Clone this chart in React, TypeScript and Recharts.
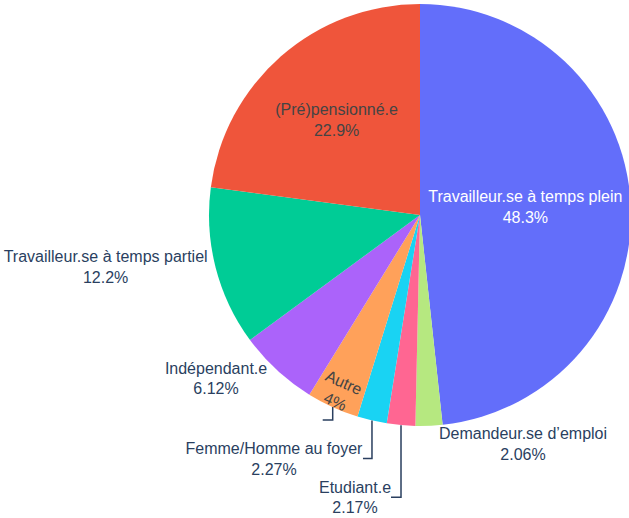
import { PieChart, Pie, Cell } from "recharts";

const categories = [
  "Travailleur.se à temps plein",
  "Demandeur.se d’emploi",
  "Etudiant.e",
  "Femme/Homme au foyer",
  "Autre",
  "Indépendant.e",
  "Travailleur.se à temps partiel",
  "(Pré)pensionné.e",
];
const shares = [48.3, 2.06, 2.17, 2.27, 4, 6.12, 12.2, 22.9];
const colors = [
  "#636efa",
  "#b6e880",
  "#ff6692",
  "#19d3f3",
  "#ffa15a",
  "#ab63fa",
  "#00cc96",
  "#ef553b",
];

const data = categories.map((name, i) => ({ name, value: shares[i] }));

const RADIAN = Math.PI / 180;
const TEXT = "#2a3f5f";
const FONT = "'Liberation Sans', Arial, sans-serif";

// how each label is placed relative to its slice
type Layout =
  | { kind: "inside"; r: number; dy: number; fill: string; rotate?: boolean; leader?: number[] }
  | { kind: "outside"; dx: number; dy: number; leader?: number[] };

const layouts: Layout[] = [
  { kind: "inside", r: 0.5, dy: -3, fill: "#ffffff" },
  { kind: "outside", dx: 94, dy: 8 },
  { kind: "outside", dx: -46, dy: 62, leader: [72, -10] },
  { kind: "outside", dx: -98, dy: 28, leader: [38, -9] },
  { kind: "inside", r: 0.92, dy: 0, fill: "#444444", rotate: true, leader: [13, -10] },
  { kind: "outside", dx: -61, dy: -2 },
  { kind: "outside", dx: -110, dy: -11 },
  { kind: "inside", r: 0.6, dy: 0, fill: "#444444" },
];

const renderLabel = (props: any) => {
  const { cx, cy, midAngle, outerRadius, index, name, value } = props;
  const lay = layouts[index];
  const cos = Math.cos(-midAngle * RADIAN);
  const sin = Math.sin(-midAngle * RADIAN);
  const px = cx + outerRadius * cos;
  const py = cy + outerRadius * sin;
  const lines = [name, `${value}%`];

  let leader = null;
  if (lay.leader) {
    const [down, side] = lay.leader;
    leader = (
      <polyline
        points={`${px},${py} ${px},${py + down} ${px + side},${py + down}`}
        fill="none"
        stroke={TEXT}
        strokeWidth={1.5}
      />
    );
  }

  if (lay.kind === "inside") {
    const x = cx + outerRadius * lay.r * cos;
    const y = cy + outerRadius * lay.r * sin + lay.dy;
    const rot = lay.rotate ? -midAngle - 90 : 0;
    return (
      <g>
        {leader}
        <text
          x={x}
          y={y}
          textAnchor="middle"
          fill={lay.fill}
          fontFamily={FONT}
          fontSize={16}
          transform={rot ? `rotate(${rot}, ${x}, ${y})` : undefined}
        >
          <tspan x={x} dy={-4.5}>{lines[0]}</tspan>
          <tspan x={x} dy={20.8}>{lines[1]}</tspan>
        </text>
      </g>
    );
  }

  const x = px + lay.dx;
  const y = py + lay.dy;
  return (
    <g>
      {leader}
      <text x={x} y={y} textAnchor="middle" fill={TEXT} fontFamily={FONT} fontSize={16}>
        <tspan x={x} dy={5.5}>{lines[0]}</tspan>
        <tspan x={x} dy={20.8}>{lines[1]}</tspan>
      </text>
    </g>
  );
};

export default function App() {
  return (
    <div style={{ position: "absolute", left: 0, top: 0, background: "#fff" }}>
      <PieChart width={629} height={518} margin={{ top: 0, right: 0, bottom: 0, left: 0 }}>
        <Pie
          data={data}
          dataKey="value"
          nameKey="name"
          cx={420}
          cy={215}
          outerRadius={211}
          startAngle={90}
          endAngle={-270}
          stroke="none"
          label={renderLabel}
          labelLine={false}
          isAnimationActive={false}
        >
          {data.map((d, i) => (
            <Cell key={d.name} fill={colors[i]} />
          ))}
        </Pie>
      </PieChart>
    </div>
  );
}
